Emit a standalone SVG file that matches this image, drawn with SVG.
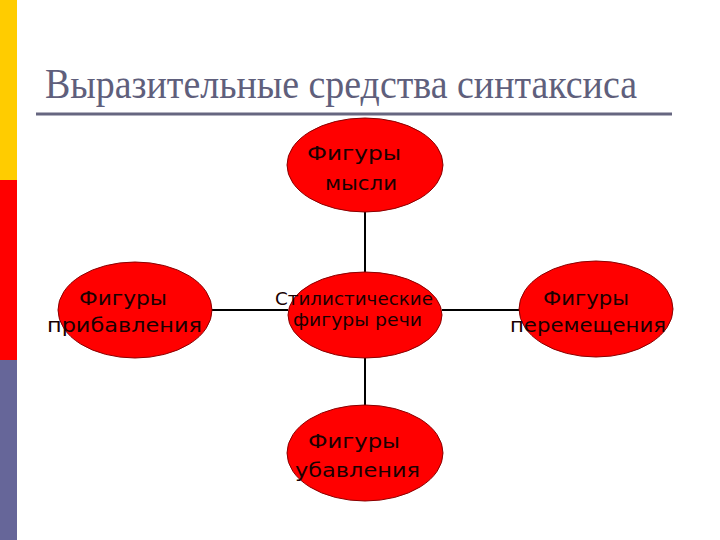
<svg xmlns="http://www.w3.org/2000/svg" width="720" height="540" viewBox="0 0 720 540">
<style>
.node{fill:#ff0000;stroke:#8a0000;stroke-width:1}
.lbl{font-family:"DejaVu Sans","Liberation Sans",sans-serif;font-size:20px;fill:#1a0000}
.lblc{font-family:"DejaVu Sans","Liberation Sans",sans-serif;font-size:17px;fill:#1a0000}
.conn{stroke:#000;stroke-width:2;fill:none}
</style>
<rect width="720" height="540" fill="#ffffff"/>
<rect x="0" y="0" width="17" height="180" fill="#ffcc00"/>
<rect x="0" y="180" width="17" height="180" fill="#ff0000"/>
<rect x="0" y="360" width="17" height="180" fill="#666699"/>
<text x="45" y="98" font-family="Liberation Serif,serif" font-size="42" fill="#5f5f7c" textLength="592" lengthAdjust="spacingAndGlyphs">Выразительные средства синтаксиса</text>
<rect x="36" y="112.5" width="636" height="3" fill="#666680"/>
<g id="connectors">
<line class="conn" x1="365" y1="212" x2="365" y2="272"/>
<line class="conn" x1="365" y1="358" x2="365" y2="405"/>
<line class="conn" x1="212" y1="310" x2="288" y2="310"/>
<line class="conn" x1="442" y1="310" x2="520" y2="310"/>
</g>
<g id="n-top">
<ellipse class="node" cx="365" cy="165" rx="78" ry="47"/>
<text class="lbl" x="307" y="160" textLength="94" lengthAdjust="spacingAndGlyphs">Фигуры</text>
<text class="lbl" x="325" y="190" textLength="72" lengthAdjust="spacingAndGlyphs">мысли</text>
</g>
<g id="n-center">
<ellipse class="node" cx="365" cy="315" rx="77" ry="43"/>
<text class="lblc" x="275" y="305" textLength="158" lengthAdjust="spacingAndGlyphs">Стилистические</text>
<text class="lblc" x="293" y="326" textLength="129" lengthAdjust="spacingAndGlyphs">фигуры речи</text>
</g>
<g id="n-left">
<ellipse class="node" cx="135" cy="310" rx="77" ry="48"/>
<text class="lbl" x="79" y="305" textLength="88" lengthAdjust="spacingAndGlyphs">Фигуры</text>
<text class="lbl" x="47" y="332" textLength="155" lengthAdjust="spacingAndGlyphs">прибавления</text>
</g>
<g id="n-right">
<ellipse class="node" cx="596" cy="309" rx="77" ry="48"/>
<text class="lbl" x="543" y="305" textLength="86" lengthAdjust="spacingAndGlyphs">Фигуры</text>
<text class="lbl" x="510" y="332" textLength="156" lengthAdjust="spacingAndGlyphs">перемещения</text>
</g>
<g id="n-bottom">
<ellipse class="node" cx="365" cy="453" rx="78" ry="48"/>
<text class="lbl" x="308" y="448" textLength="92" lengthAdjust="spacingAndGlyphs">Фигуры</text>
<text class="lbl" x="295" y="477" textLength="125" lengthAdjust="spacingAndGlyphs">убавления</text>
</g>
</svg>
